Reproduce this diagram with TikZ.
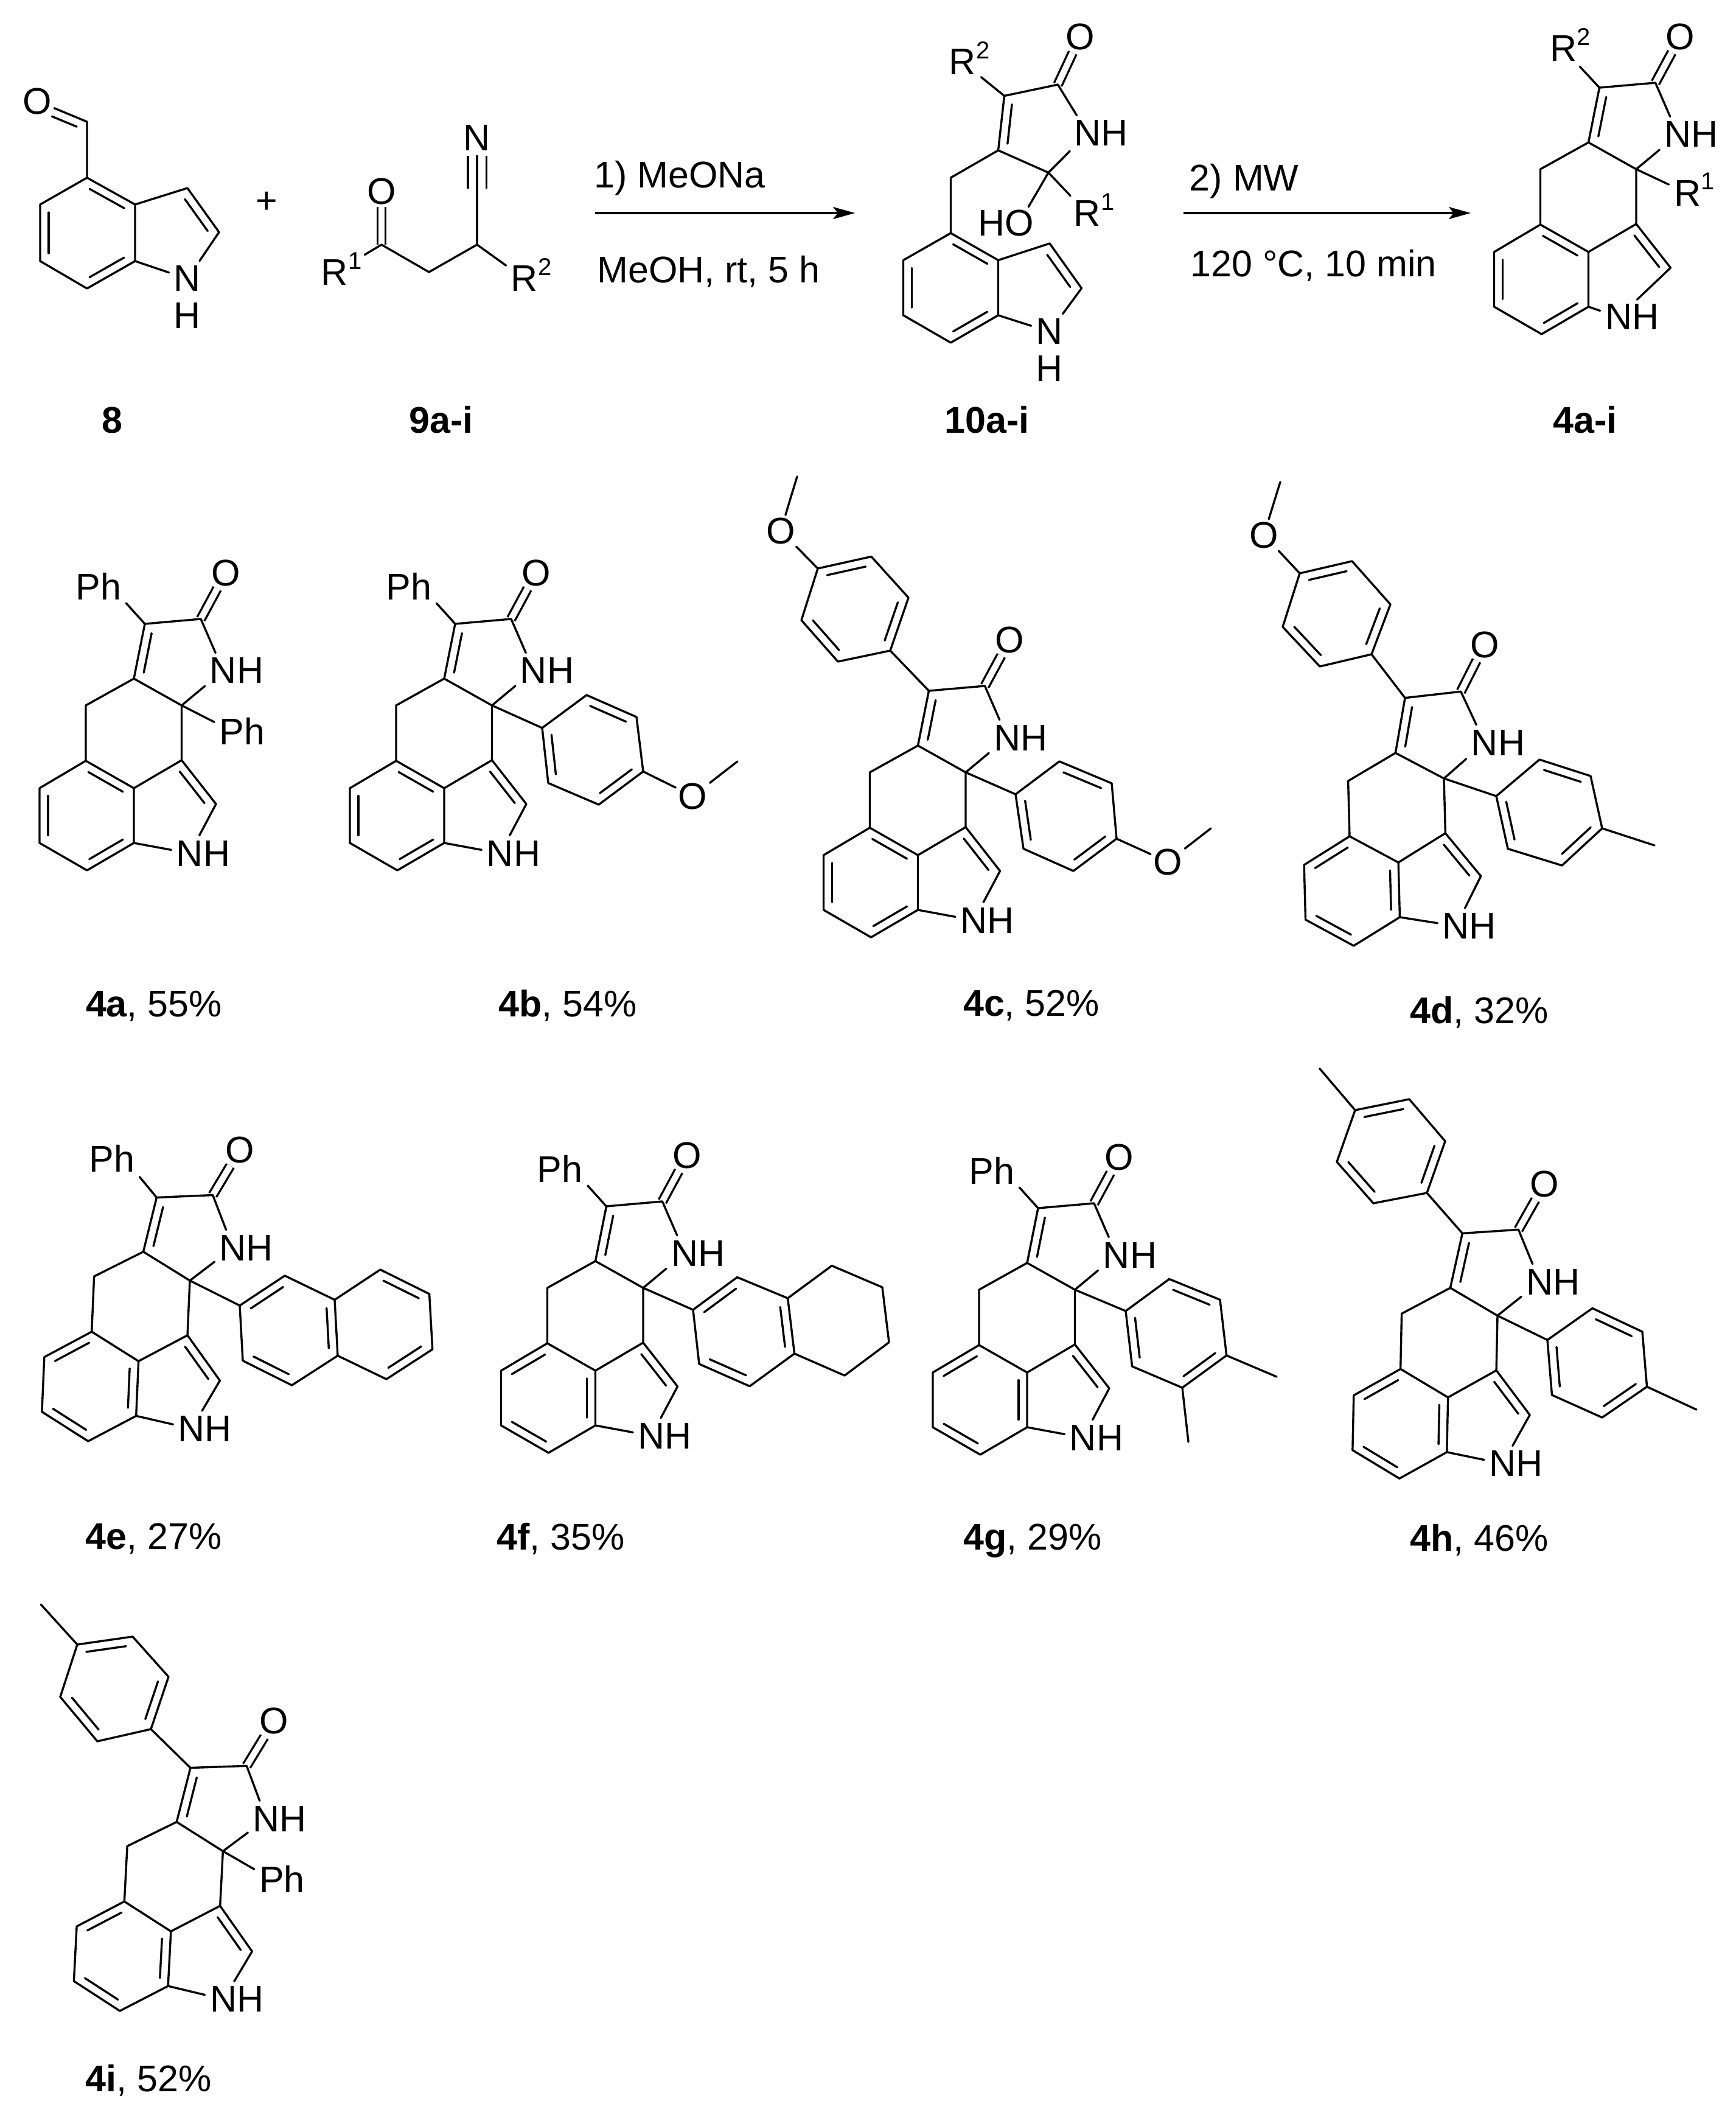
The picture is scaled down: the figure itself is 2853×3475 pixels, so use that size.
\documentclass[tikz,border=0pt]{standalone}
\usepackage{fontspec}
\setmainfont{Liberation Sans}
\usetikzlibrary{calc}
\usetikzlibrary{arrows.meta}
\tikzset{>={Stealth[length=18pt,width=10pt,inset=4pt]}}

% inner line of a double bond, on the right when going from #2 to #3
\newcommand{\inbond}[3][.14]{\draw[bond] ($(#2)!#1!(#3)!7pt!-90:(#3)$) -- ($(#3)!.14!(#2)!7pt!90:(#2)$);}
\newcommand{\rsup}[1]{R\smash{\rlap{\raisebox{.44em}{\fontsize{20}{20}\selectfont #1}}}}
% the two ways of placing double bonds in the benzene ring of the core
\newcommand{\kekA}{\inbond{C4}{C3b}\inbond{C7a}{C7}\inbond{C6}{C5}}
\newcommand{\kekB}{\inbond{C5}{C4}\inbond{C3b}{C7a}\inbond{C7}{C6}}
% groups on the core
\newcommand{\phup}{\node[atom] (phu) at (-116.5,-196) {\llap{P}h}; \draw[bond] (C3) -- (phu);}
\newcommand{\phside}{\node[atom] (phs) at (82.5,42) {P\rlap{h}}; \draw[bond] (spiro) -- (phs);}
% core: [indole N]{prefix}{spiro carbon}{rotation}{double bonds}{groups}
\newcommand{\corering}[6][13.5,243]{%
  \begin{scope}[shift={(#3)},rotate=#4,name prefix=#2-]
    \coordinate (spiro) at (0,0);
    \coordinate (C3) at (-60.5,-134);
    \coordinate (C2) at (31.5,-142);
    \coordinate (C3a) at (-78.5,-44);
    \coordinate (CH2) at (-157.5,0);
    \coordinate (C4) at (-157.5,91);
    \coordinate (C3i) at (0,90);
    \coordinate (C3b) at (-78.5,136);
    \coordinate (C2i) at (56.5,162);
    \coordinate (C7a) at (-78.5,226);
    \coordinate (C7) at (-155.5,271);
    \coordinate (C6) at (-233.5,226);
    \coordinate (C5) at (-233.5,136);
    \node[oatom] (O) at (72.5,-218) {O};
    \node[atom] (N1) at (68.5,-57) {N\rlap{H}};
    \node[atom] (N2) at (#1) {N\rlap{H}};
    \draw[cdouble] (C2) -- (O);
    \draw[bond] (C3a) -- (C3) -- (C2) -- (N1) -- (spiro) -- (C3a) -- (CH2) -- (C4) -- (C5) -- (C6) -- (C7) -- (C7a) -- (C3b) -- (C4);
    \draw[bond] (spiro) -- (C3i) -- (C3b);
    \draw[bond] (C3i) -- (C2i) -- (N2) -- (C7a);
    \inbond{C3a}{C3}
    \inbond{C3i}{C2i}
    #5
    #6
  \end{scope}}
% benzene ring with double bonds 1-2, 3-4, 5-6, going clockwise
\newcommand{\aryl}[7]{%
  \coordinate (#1-1) at (#2);
  \coordinate (#1-2) at (#3);
  \coordinate (#1-3) at (#4);
  \coordinate (#1-4) at (#5);
  \coordinate (#1-5) at (#6);
  \coordinate (#1-6) at (#7);
  \draw[bond] (#1-1) -- (#1-2) -- (#1-3) -- (#1-4) -- (#1-5) -- (#1-6) -- cycle;
  \inbond{#1-1}{#1-2}
  \inbond{#1-3}{#1-4}
  \inbond{#1-5}{#1-6}}

\begin{document}
\begin{tikzpicture}[x=.5pt,y=-.5pt,
    bond/.style={line width=1.7pt, line cap=round, line join=round},
    cdouble/.style={double, double distance=5pt, line width=1.7pt},
    atom/.style={inner sep=4pt, font=\fontsize{30.5}{36}\selectfont},
    oatom/.style={atom, inner sep=2pt},
    cmpd/.style={inner sep=0pt, anchor=base, font=\fontsize{30.5}{36}\selectfont},
    cond/.style={inner sep=0pt, anchor=base west, font=\fontsize{30.5}{36}\selectfont},
    arrowline/.style={->, line width=1.7pt}]
    \useasboundingbox (0,0) rectangle (2853,3475);

    %Compound 8
    \node[oatom](ald_o) at (61,166){O};
    \coordinate (ald_c) at (143,200);
    \coordinate (ald_4) at (143,292);
    \coordinate (ald_3a) at (222,336);
    \coordinate (ald_3) at (308,309);
    \coordinate (ald_2) at (360,381.5);
    \node[atom](ald_n) at (308,458){N};
    \node[atom](ald_h) at (308,519){H};
    \coordinate (ald_7a) at (222,429);
    \coordinate (ald_7) at (143,474);
    \coordinate (ald_6) at (66,429);
    \coordinate (ald_5) at (66,336);
    \draw[bond] (ald_o) -- (ald_c) -- (ald_4) -- (ald_3a) -- (ald_7a) -- (ald_7) -- (ald_6) -- (ald_5) -- (ald_4);
    \draw[bond] (ald_3a) -- (ald_3) -- (ald_2) -- (ald_n) -- (ald_7a);
    \inbond[.36]{ald_o}{ald_c}
    \inbond{ald_4}{ald_3a}
    \inbond{ald_7a}{ald_7}
    \inbond{ald_6}{ald_5}
    \inbond{ald_3}{ald_2}
    \node[cmpd](lab_8) at (184,711){\textbf{8}};
    \node[atom](plus) at (438,333){+};

    %Compound 9
    \node[oatom](nit_o) at (627,314){O};
    \coordinate (nit_co) at (627,402);
    \coordinate (nit_ch2) at (705,447);
    \coordinate (nit_ch) at (784,402);
    \coordinate (nit_c) at (784,310);
    \node[atom](nit_n) at (784,227){N};
    \node[atom](nit_r1) at (550,448){\rsup{1}};
    \node[atom](nit_r2) at (862,458){\rsup{2}};
    \draw[cdouble] (nit_co) -- (nit_o);
    \draw[cdouble, double distance=13.5pt] (nit_c) -- (nit_n);
    \draw[bond, shorten <=11pt] (nit_r1) -- (nit_co);
    \draw[bond] (nit_co) -- (nit_ch2) -- (nit_ch) -- (nit_r2);
    \draw[bond] (nit_ch) -- (nit_c) -- (nit_n);
    \node[cmpd](lab_9) at (725,711){\textbf{9a-i}};

    %First arrow
    \coordinate (arr1_s) at (978,350);
    \coordinate (arr1_e) at (1405,350);
    \draw[arrowline] (arr1_s) -- (arr1_e);
    \node[cond](cond1a) at (976,308){1) MeONa};
    \node[cond](cond1b) at (981,464){MeOH, rt, 5 h};

    %Compound 10
    \node[oatom](hyd_o) at (1775,60.6){O};
    \coordinate (hyd_2) at (1738.5,139);
    \coordinate (hyd_3) at (1650.5,157.5);
    \node[atom](hyd_r2) at (1582,102){\rsup{2}};
    \coordinate (hyd_4) at (1640.5,247);
    \node[atom](hyd_n1) at (1787.5,219){N\rlap{H}};
    \coordinate (hyd_5) at (1723,283.6);
    \node[atom](hyd_r1) at (1787,351){\rsup{1}};
    \node[oatom](hyd_ho) at (1675,366){\llap{H}O};
    \coordinate (hyd_ch2) at (1562.5,292);
    \coordinate (hyd_a4) at (1562.5,383);
    \coordinate (hyd_a3a) at (1640.5,427.5);
    \coordinate (hyd_a3) at (1725,400);
    \coordinate (hyd_a2) at (1777.5,473.6);
    \node[atom](hyd_n) at (1725,545){N};
    \node[atom](hyd_h) at (1725,606){H};
    \coordinate (hyd_a7a) at (1640.5,518);
    \coordinate (hyd_a7) at (1562.5,563);
    \coordinate (hyd_a6) at (1484.5,518);
    \coordinate (hyd_a5) at (1484.5,427.5);
    \draw[cdouble] (hyd_2) -- (hyd_o);
    \draw[bond] (hyd_r2) -- (hyd_3) -- (hyd_2) -- (hyd_n1) -- (hyd_5) -- (hyd_4) -- (hyd_3);
    \draw[bond] (hyd_r1) -- (hyd_5) -- (hyd_ho);
    \draw[bond] (hyd_4) -- (hyd_ch2) -- (hyd_a4) -- (hyd_a3a) -- (hyd_a7a) -- (hyd_a7) -- (hyd_a6) -- (hyd_a5) -- (hyd_a4);
    \draw[bond] (hyd_a3a) -- (hyd_a3) -- (hyd_a2) -- (hyd_n) -- (hyd_a7a);
    \inbond{hyd_4}{hyd_3}
    \inbond{hyd_a4}{hyd_a3a}
    \inbond{hyd_a7a}{hyd_a7}
    \inbond{hyd_a6}{hyd_a5}
    \inbond{hyd_a3}{hyd_a2}
    \node[cmpd](lab_10) at (1622,711){\textbf{10a-i}};

    %Second arrow
    \coordinate (arr2_s) at (1944.5,350);
    \coordinate (arr2_e) at (2417,350);
    \draw[arrowline] (arr2_s) -- (arr2_e);
    \node[cond](cond2a) at (1954.5,313){2) MW};
    \node[cond](cond2b) at (1956,454){120 °C, 10 min};

    %Product 4a-i
    \corering[-29,243]{top}{2689,278}{0}{\kekA}{
      \node[atom] (r2) at (-120,-198) {\rsup{2}};
      \draw[bond] (C3) -- (r2);
      \node[atom] (r1) at (84,39.5) {\rsup{1}};
      \draw[bond] (spiro) -- (r1);}
    \node[cmpd](lab_top) at (2605,711){\textbf{4a-i}};

    %4a
    \corering{a}{298.5,1159}{0}{\kekA}{\phup\phside}
    \node[cmpd](lab_a) at (253,1670){\textbf{4a}, 55\%};

    %4b
    \corering{b}{808.5,1159}{0}{\kekA}{\phup}
    \aryl{b-ar}{964,1142}{1046,1178}{1057,1267.6}{984,1322}{901,1286.6}{891,1196}
    \node[oatom](b-ome) at (1138.5,1308){O};
    \coordinate (b-me) at (1212,1251);
    \draw[bond] (b-spiro) -- (b-ar-6);
    \draw[bond] (b-ar-3) -- (b-ome) -- (b-me);
    \node[cmpd](lab_b) at (933,1670){\textbf{4b}, 54\%};

    %4c
    \corering{c}{1587,1269}{0}{\kekA}{}
    \aryl{c-up}{1344,934}{1432,914.5}{1493,982}{1463,1069}{1377,1087}{1317,1019}
    \node[oatom](c-ome1) at (1283,872){O};
    \coordinate (c-me1) at (1310,783);
    \draw[bond] (c-C3) -- (c-up-4);
    \draw[bond] (c-up-1) -- (c-ome1) -- (c-me1);
    \aryl{c-ar}{1741,1251}{1827,1287}{1835,1378}{1764,1431}{1682,1394.5}{1669,1305}
    \node[oatom](c-ome2) at (1919,1416){O};
    \coordinate (c-me2) at (1990,1361);
    \draw[bond] (c-spiro) -- (c-ar-6);
    \draw[bond] (c-ar-3) -- (c-ome2) -- (c-me2);
    \node[cmpd](lab_c) at (1695,1669){\textbf{4c}, 52\%};

    %4d
    \corering{d}{2373,1279}{1.5}{\kekB}{}
    \aryl{d-up}{2136,942}{2222,922}{2285,993}{2254,1075}{2169,1095}{2108,1030}
    \node[oatom](d-ome) at (2077,879){O};
    \coordinate (d-me1) at (2104,792);
    \draw[bond] (d-C3) -- (d-up-4);
    \draw[bond] (d-up-1) -- (d-ome) -- (d-me1);
    \aryl{d-ar}{2530,1248}{2614,1275}{2633,1361}{2567,1422}{2478,1394.5}{2459,1308}
    \coordinate (d-me2) at (2719,1389);
    \draw[bond] (d-spiro) -- (d-ar-6);
    \draw[bond] (d-ar-3) -- (d-me2);
    \node[cmpd](lab_d) at (2431,1681){\textbf{4d}, 32\%};

    %4e
    \corering{e}{312,2104}{-2.5}{\kekB}{\phup}
    \aryl{e-ar}{394,2145}{468,2096}{550,2135.6}{555,2227.4}{479.6,2276}{399,2235.6}
    \coordinate (e-n1) at (625,2086);
    \coordinate (e-n2) at (705.6,2126);
    \coordinate (e-n3) at (710.7,2217);
    \coordinate (e-n4) at (635,2266);
    \draw[bond] (e-spiro) -- (e-ar-1);
    \draw[bond] (e-ar-3) -- (e-n1) -- (e-n2) -- (e-n3) -- (e-n4) -- (e-ar-4);
    \inbond{e-n1}{e-n2}
    \inbond{e-n3}{e-n4}
    \node[cmpd](lab_e) at (252.5,2545){\textbf{4e}, 27\%};

    %4f
    \corering{f}{1057,2116}{0}{\kekB}{\phup}
    \aryl{f-ar}{1139,2152}{1211.5,2098.5}{1294.6,2133}{1305.6,2224}{1232,2277.6}{1149,2241}
    \coordinate (f-t1) at (1367,2079.6);
    \coordinate (f-t2) at (1450,2115);
    \coordinate (f-t3) at (1461,2205.5);
    \coordinate (f-t4) at (1388,2260);
    \draw[bond] (f-spiro) -- (f-ar-1);
    \draw[bond] (f-ar-3) -- (f-t1) -- (f-t2) -- (f-t3) -- (f-t4) -- (f-ar-4);
    \node[cmpd](lab_f) at (921.5,2546){\textbf{4f}, 35\%};

    %4g
    \corering{g}{1766.5,2119}{0}{\kekB}{\phup}
    \aryl{g-ar}{1921.6,2101.5}{2005,2135.5}{2015.7,2227}{1943,2280}{1860.6,2245}{1850,2154}
    \coordinate (g-me1) at (2098,2262);
    \coordinate (g-me2) at (1953,2369);
    \draw[bond] (g-spiro) -- (g-ar-6);
    \draw[bond] (g-ar-3) -- (g-me1);
    \draw[bond] (g-ar-4) -- (g-me2);
    \node[cmpd](lab_g) at (1697,2546){\textbf{4g}, 29\%};

    %4h
    \corering{h}{2461,2161.6}{-1.2}{\kekB}{}
    \aryl{h-up}{2227,1824}{2316,1806}{2375,1875}{2345,1960}{2257,1977}{2197,1909}
    \coordinate (h-me1) at (2168.7,1755.6);
    \draw[bond] (h-C3) -- (h-up-4);
    \draw[bond] (h-up-1) -- (h-me1);
    \aryl{h-ar}{2617,2149.5}{2699,2188}{2706.6,2278.4}{2633,2329}{2550.5,2292}{2543,2201.6}
    \coordinate (h-me2) at (2788,2316);
    \draw[bond] (h-spiro) -- (h-ar-6);
    \draw[bond] (h-ar-3) -- (h-me2);
    \node[cmpd](lab_h) at (2431,2548){\textbf{4h}, 46\%};

    %4i
    \corering{i}{366.4,3041.5}{-3}{\kekB}{\phside}
    \aryl{i-up}{127,2702}{218,2689}{277,2755}{248,2841}{160,2861}{99,2788}
    \coordinate (i-me) at (67,2636);
    \draw[bond] (i-C3) -- (i-up-4);
    \draw[bond] (i-up-1) -- (i-me);
    \node[cmpd](lab_i) at (244,3436){\textbf{4i}, 52\%};

\end{tikzpicture}
\end{document}
